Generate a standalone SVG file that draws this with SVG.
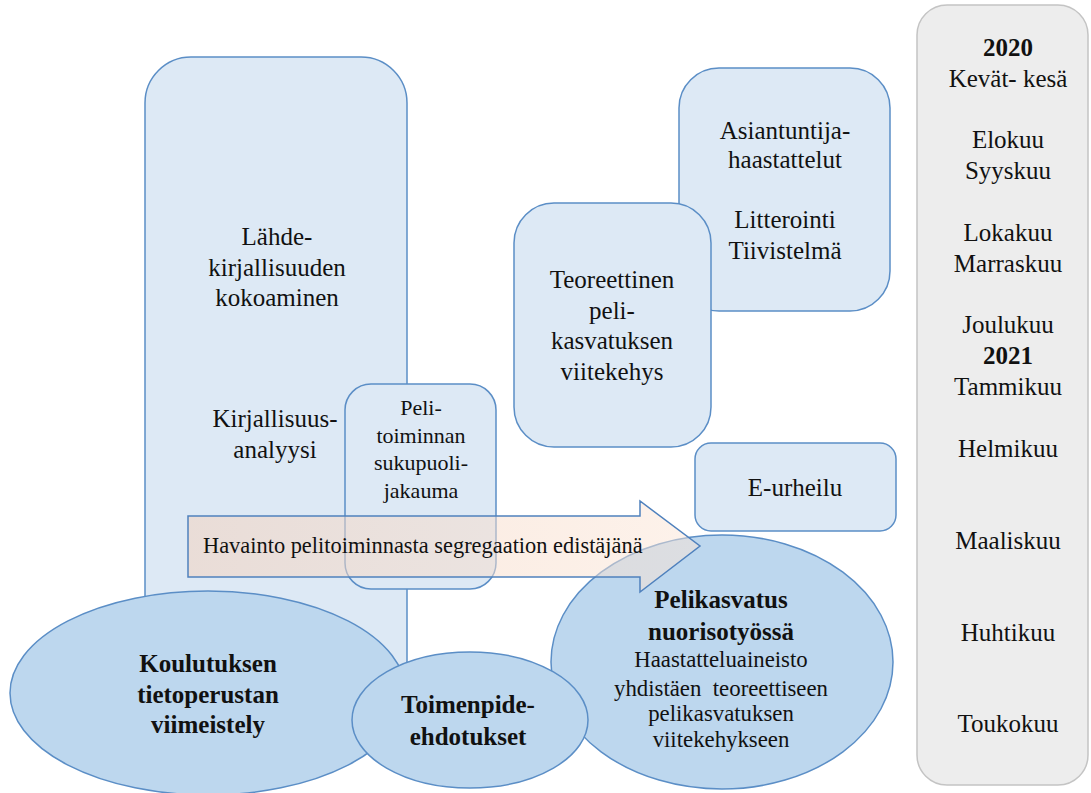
<svg xmlns="http://www.w3.org/2000/svg" width="1091" height="793" viewBox="0 0 1091 793" font-family="'Liberation Serif', 'DejaVu Serif', serif">
<defs>
<style>
.box{fill:#dde9f5;stroke:#5b8ec6;stroke-width:1.5}
.ell{fill:#bdd7ee;stroke:#5b8ec6;stroke-width:1.5}
.tl{fill:#ededed;stroke:#c4c4c4;stroke-width:1.5}
text{font-family:'Liberation Serif','DejaVu Serif',serif;fill:#111;text-anchor:middle;font-size:25px}
.s{font-size:22px}
.m{font-size:22.8px}
.a{font-size:22.4px;text-anchor:start}
.b{font-weight:bold}
</style>
<linearGradient id="ag" x1="0" y1="0" x2="1" y2="0">
<stop offset="0" stop-color="#f4d3bf" stop-opacity="0.55"/>
<stop offset="1" stop-color="#fbe5d6" stop-opacity="0.5"/>
</linearGradient>
</defs>
<rect x="0" y="0" width="1091" height="793" fill="#fff"/>

<g id="lahde">
<rect class="box" x="145" y="57" width="262" height="650" rx="46"/>
<text x="277" y="245">Lähde-</text>
<text x="277" y="276">kirjallisuuden</text>
<text x="277" y="306">kokoaminen</text>
<text x="275" y="427">Kirjallisuus-</text>
<text x="275" y="458">analyysi</text>
</g>

<g id="asiantuntija">
<rect class="box" x="679" y="68" width="211" height="243" rx="40"/>
<text x="785" y="139">Asiantuntija-</text>
<text x="785" y="168">haastattelut</text>
<text x="785" y="228">Litterointi</text>
<text x="785" y="259">Tiivistelmä</text>
</g>

<g id="teoreettinen">
<rect class="box" x="514" y="203" width="197" height="244" rx="40"/>
<text x="612" y="288">Teoreettinen</text>
<text x="612" y="319">peli-</text>
<text x="612" y="349">kasvatuksen</text>
<text x="612" y="380">viitekehys</text>
</g>

<g id="eurheilu">
<rect class="box" x="695" y="443" width="201" height="88" rx="16"/>
<text x="795" y="496">E-urheilu</text>
</g>

<g id="peli">
<rect class="box" x="345" y="384" width="151" height="205" rx="26"/>
<text class="s" x="421" y="415">Peli-</text>
<text class="s" x="421" y="443">toiminnan</text>
<text class="s" x="421" y="470">sukupuoli-</text>
<text class="s" x="421" y="498">jakauma</text>
</g>

<g id="koulutuksen">
<ellipse class="ell" cx="208" cy="693" rx="198" ry="102"/>
<text class="b" x="208" y="672">Koulutuksen</text>
<text class="b" x="208" y="703">tietoperustan</text>
<text class="b" x="208" y="733">viimeistely</text>
</g>

<g id="pelikasvatus">
<ellipse class="ell" cx="722" cy="662" rx="171" ry="127"/>
<text class="b" x="721" y="608">Pelikasvatus</text>
<text class="b" x="721" y="640">nuorisotyössä</text>
<text class="m" x="721" y="667">Haastatteluaineisto</text>
<text class="m" x="721" y="696" xml:space="preserve">yhdistäen  teoreettiseen</text>
<text class="m" x="721" y="721">pelikasvatuksen</text>
<text class="m" x="721" y="747">viitekehykseen</text>
</g>

<g id="toimenpide">
<ellipse class="ell" cx="470" cy="720" rx="118" ry="68"/>
<text class="b" x="468" y="713">Toimenpide-</text>
<text class="b" x="468" y="745">ehdotukset</text>
</g>

<g id="connectors">
<g id="havainto-arrow">
<path d="M188,516 L640,516 L640,501 L700,546 L640,592 L640,577 L188,577 Z" fill="url(#ag)" stroke="#4f81bd" stroke-width="1.5"/>
<text class="a" x="203" y="553">Havainto pelitoiminnasta segregaation edistäjänä</text>
</g>
</g>

<g id="aikajana">
<rect class="tl" x="917" y="5" width="171" height="780" rx="30"/>
<text class="b" x="1008" y="56">2020</text>
<text x="1008" y="87">Kevät- kesä</text>
<text x="1008" y="148">Elokuu</text>
<text x="1008" y="179">Syyskuu</text>
<text x="1008" y="241">Lokakuu</text>
<text x="1008" y="272">Marraskuu</text>
<text x="1008" y="333">Joulukuu</text>
<text class="b" x="1008" y="364">2021</text>
<text x="1008" y="395">Tammikuu</text>
<text x="1008" y="457">Helmikuu</text>
<text x="1008" y="549">Maaliskuu</text>
<text x="1008" y="641">Huhtikuu</text>
<text x="1008" y="732">Toukokuu</text>
</g>
</svg>
